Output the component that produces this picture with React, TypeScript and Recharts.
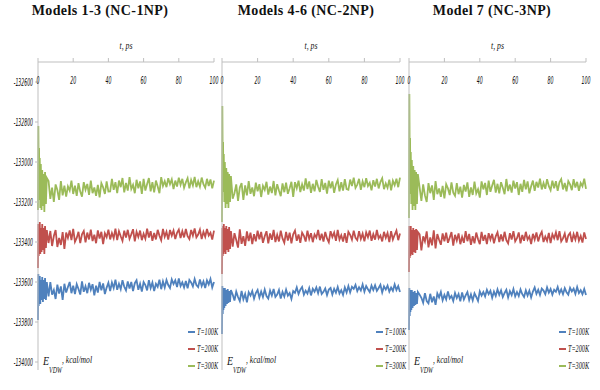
import React from 'react';
import { LineChart, Line, XAxis, YAxis, Legend } from 'recharts';

// time axis (ps), denser at the start where the transient is
const timePs = [
  0, 0.2, 0.4, 0.6, 0.8, 1, 1.3, 1.6, 2, 2.4, 2.8, 3.2, 3.6, 4, 4.5, 5,
  6, 7, 8, 9, 10, 11, 12, 13, 14, 15, 16, 17, 18, 19, 20,
  21, 22, 23, 24, 25, 26, 27, 28, 29, 30, 31, 32, 33, 34, 35,
  36, 37, 38, 39, 40, 41, 42, 43, 44, 45, 46, 47, 48, 49, 50,
  51, 52, 53, 54, 55, 56, 57, 58, 59, 60, 61, 62, 63, 64, 65,
  66, 67, 68, 69, 70, 71, 72, 73, 74, 75, 76, 77, 78, 79, 80,
  81, 82, 83, 84, 85, 86, 87, 88, 89, 90, 91, 92, 93, 94, 95,
  96, 97, 98, 99, 100,
];

const xTicks = [0, 20, 40, 60, 80, 100];
const yTicks = [-132600, -132800, -133000, -133200, -133400, -133600, -133800, -134000];
const seriesNames = ['T=100K', 'T=200K', 'T=300K'];
const colors = ['#4F81BD', '#C0504D', '#9BBB59'];

// Models 1-3 (NC-1NP)
const nc1_100K = [
  -133790, -133560, -133720, -133580, -133700, -133570, -133710, -133590, -133690, -133575, -133700, -133590, -133685, -133580, -133690, -133600,
  -133672, -133600, -133663, -133640, -133685, -133613, -133658, -133622, -133690, -133609,
  -133653, -133625, -133600, -133656, -133618, -133660, -133611, -133635, -133663, -133597,
  -133649, -133621, -133656, -133604, -133639, -133611, -133667, -133618, -133653, -133600,
  -133642, -133607, -133660, -133628, -133604, -133645, -133603, -133630, -133588, -133639,
  -133609, -133636, -133591, -133624, -133642, -133597, -133633, -133600, -133645, -133606,
  -133591, -133639, -133609, -133648, -133600, -133615, -133642, -133591, -133630, -133603,
  -133645, -133609, -133624, -133588, -133636, -133597, -133627, -133590, -133615, -133630,
  -133587, -133610, -133592, -133625, -133582, -133620, -133602, -133627, -133595, -133632,
  -133590, -133602, -133622, -133585, -133615, -133625, -133587, -133620, -133597, -133630,
  -133592, -133612, -133585, -133627, -133600,
];
const nc1_200K = [
  -133530, -133310, -133470, -133320, -133450, -133300, -133460, -133330, -133450, -133310, -133440, -133330, -133460, -133320, -133430, -133340,
  -133405, -133345, -133420, -133370, -133340, -133425, -133380, -133415, -133350, -133435,
  -133353, -133380, -133342, -133391, -133334, -133399, -133380, -133349, -133406, -133361,
  -133345, -133402, -133353, -133387, -133338, -133395, -133364, -133406, -133342, -133383,
  -133349, -133410, -133357, -133376, -133338, -133387, -133355, -133381, -133333, -133391,
  -133346, -133371, -133394, -133343, -133378, -133339, -133384, -133362, -133336, -133397,
  -133349, -133375, -133343, -133391, -133359, -133384, -133333, -133378, -133346, -133394,
  -133355, -133387, -133339, -133368, -133391, -133335, -133374, -133349, -133388, -133340,
  -133368, -133343, -133385, -133354, -133338, -133380, -133346, -133377, -133335, -133371,
  -133385, -133340, -133368, -133332, -133377, -133363, -133338, -133385, -133349, -133374,
  -133335, -133368, -133354, -133388, -133343,
];
const nc1_300K = [
  -133240, -132820, -133060, -132930, -133190, -132980, -133230, -133010, -133240, -133040, -133220, -133060, -133250, -133050, -133210, -133080,
  -133095, -133184, -133128, -133200, -133112, -133140, -133189, -133095, -133167, -133118,
  -133173, -133122, -133143, -133093, -133160, -133118, -133169, -133106, -133148, -133173,
  -133101, -133139, -133110, -133164, -133093, -133156, -133127, -133169, -133114, -133177,
  -133106, -133127, -133160, -133097, -133148, -133147, -133084, -133139, -133101, -133156,
  -133093, -133126, -133080, -133152, -133105, -133143, -133076, -133135, -133114, -133156,
  -133089, -133131, -133097, -133160, -133084, -133143, -133110, -133080, -133147, -133101,
  -133152, -133093, -133122, -133156, -133076, -133120, -133096, -133126, -133081, -133111,
  -133087, -133135, -133093, -133123, -133078, -133114, -133084, -133129, -133102, -133081,
  -133132, -133090, -133117, -133075, -133126, -133096, -133123, -133078, -133111, -133129,
  -133084, -133120, -133087, -133132, -133093,
];

// Models 4-6 (NC-2NP)
const nc2_100K = [
  -133860, -133620, -133760, -133630, -133740, -133640, -133730, -133630, -133720, -133640, -133710, -133635, -133705, -133645, -133700, -133640,
  -133663, -133693, -133648, -133675, -133696, -133645, -133687, -133660, -133702, -133651,
  -133668, -133645, -133683, -133655, -133640, -133678, -133648, -133675, -133638, -133670,
  -133683, -133643, -133668, -133635, -133675, -133663, -133640, -133683, -133650, -133673,
  -133638, -133668, -133655, -133685, -133645, -133654, -133627, -133660, -133638, -133625,
  -133663, -133643, -133658, -133630, -133667, -133634, -133649, -133627, -133656, -133623,
  -133660, -133649, -133632, -133665, -133638, -133630, -133663, -133634, -133654, -133625,
  -133658, -133641, -133665, -133627, -133652, -133620, -133652, -133624, -133634, -133614,
  -133646, -133626, -133642, -133612, -133648, -133620, -133636, -133650, -133618, -133640,
  -133616, -133644, -133630, -133614, -133652, -133622, -133638, -133618, -133648, -133628,
  -133644, -133612, -133640, -133620, -133650,
];
const nc2_200K = [
  -133560, -133330, -133470, -133320, -133460, -133310, -133450, -133330, -133460, -133320, -133440, -133335, -133450, -133325, -133435, -133345,
  -133423, -133356, -133390, -133428, -133337, -133409, -133371, -133419, -133347, -133395,
  -133353, -133411, -133361, -133397, -133343, -133386, -133350, -133404, -133371, -133346,
  -133407, -133357, -133389, -133339, -133400, -133364, -133397, -133343, -133382, -133404,
  -133350, -133393, -133353, -133407, -133361, -133343, -133394, -133362, -133404, -133353,
  -133369, -133398, -133343, -133385, -133356, -133401, -133362, -133378, -133340, -133391,
  -133359, -133398, -133350, -133382, -133401, -133346, -133375, -133353, -133394, -133340,
  -133388, -133366, -133398, -133356, -133404, -133349, -133364, -133388, -133343, -133379,
  -133391, -133346, -133385, -133358, -133397, -133352, -133376, -133343, -133394, -133361,
  -133388, -133340, -133382, -133367, -133397, -133349, -133379, -133355, -133400, -133346,
  -133388, -133364, -133343, -133391, -133358,
];
const nc2_300K = [
  -133300, -132720, -133020, -132900, -133150, -132960, -133200, -133000, -133230, -133030, -133210, -133050, -133230, -133060, -133200, -133070,
  -133183, -133156, -133112, -133194, -133128, -133106, -133189, -133117, -133167, -133095,
  -133159, -133127, -133171, -133103, -133147, -133111, -133175, -133119, -133139, -133099,
  -133163, -133123, -133155, -133095, -133167, -133111, -133143, -133171, -133107, -133151,
  -133103, -133159, -133131, -133099, -133175, -133101, -133131, -133093, -133150, -133112,
  -133143, -133082, -133135, -133097, -133154, -133109, -133147, -133090, -133124, -133150,
  -133086, -133139, -133105, -133158, -133093, -133131, -133097, -133154, -133112, -133090,
  -133147, -133101, -133143, -133086, -133135, -133139, -133088, -133120, -133078, -133129,
  -133113, -133084, -133139, -133097, -133126, -133081, -133120, -133104, -133142, -133091,
  -133123, -133084, -133132, -133100, -133081, -133136, -133107, -133129, -133088, -133142,
  -133094, -133116, -133084, -133126, -133078,
];

// Model 7 (NC-3NP)
const nc3_100K = [
  -133840, -133630, -133770, -133640, -133750, -133645, -133740, -133640, -133730, -133650, -133720, -133645, -133715, -133655, -133710, -133650,
  -133663, -133679, -133704, -133656, -133695, -133707, -133659, -133701, -133672, -133714,
  -133657, -133677, -133650, -133692, -133665, -133687, -133647, -133682, -133670, -133695,
  -133655, -133680, -133660, -133697, -133652, -133687, -133667, -133650, -133690, -133662,
  -133692, -133657, -133675, -133695, -133647, -133668, -133650, -133672, -133639, -133661,
  -133644, -133679, -133648, -133670, -133637, -133664, -133642, -133675, -133655, -133639,
  -133677, -133646, -133666, -133635, -133672, -133650, -133670, -133637, -133661, -133675,
  -133642, -133668, -133644, -133677, -133648, -133627, -133659, -133639, -133665, -133633,
  -133643, -133661, -133627, -133653, -133635, -133663, -133639, -133649, -133625, -133657,
  -133637, -133661, -133631, -133651, -133663, -133629, -133647, -133633, -133659, -133625,
  -133655, -133641, -133661, -133635, -133665,
];
const nc3_200K = [
  -133550, -133320, -133480, -133330, -133470, -133320, -133460, -133340, -133465, -133330, -133450, -133340, -133455, -133335, -133440, -133350,
  -133362, -133442, -133372, -133397, -133347, -133427, -133377, -133417, -133342, -133432,
  -133360, -133389, -133414, -133357, -133396, -133353, -133404, -133378, -133350, -133418,
  -133364, -133393, -133357, -133411, -133375, -133404, -133346, -133396, -133360, -133414,
  -133371, -133407, -133353, -133386, -133411, -133349, -133394, -133365, -133410, -133356,
  -133388, -133359, -133407, -133372, -133352, -133400, -133362, -133397, -133349, -133391,
  -133407, -133356, -133388, -133346, -133397, -133381, -133352, -133407, -133365, -133394,
  -133349, -133388, -133372, -133410, -133359, -133388, -133352, -133397, -133367, -133349,
  -133400, -133373, -133394, -133355, -133406, -133361, -133382, -133352, -133391, -133346,
  -133397, -133382, -133358, -133403, -133367, -133355, -133400, -133361, -133388, -133349,
  -133394, -133370, -133403, -133352, -133385,
];
const nc3_300K = [
  -133280, -132660, -133000, -132880, -133160, -132950, -133210, -132990, -133240, -133020, -133220, -133040, -133240, -133050, -133210, -133060,
  -133128, -133194, -133112, -133167, -133200, -133106, -133156, -133117, -133189, -133095,
  -133161, -133132, -133174, -133119, -133182, -133111, -133132, -133165, -133102, -133153,
  -133169, -133106, -133161, -133123, -133178, -133115, -133148, -133102, -133174, -133127,
  -133165, -133098, -133157, -133136, -133178, -133097, -133137, -133105, -133165, -133093,
  -133149, -133117, -133089, -133153, -133109, -133157, -133101, -133129, -133161, -133085,
  -133145, -133113, -133153, -133093, -133133, -133101, -133165, -133109, -133149, -133089,
  -133137, -133097, -133157, -133121, -133093, -133144, -133099, -133128, -133083, -133137,
  -133105, -133134, -133086, -133121, -133141, -133093, -133131, -133096, -133144, -133102,
  -133086, -133137, -133105, -133147, -133096, -133112, -133141, -133086, -133128, -133099,
  -133144, -133105, -133121, -133083, -133134,
];

const buildRows = (low: number[], mid: number[], high: number[]) =>
  timePs.map((t, i) => ({ t, 'T=100K': low[i], 'T=200K': mid[i], 'T=300K': high[i] }));

const axisGray = '#BFBFBF';
const narrow = "'Liberation Sans Narrow', 'DejaVu Sans Condensed', 'Liberation Sans', sans-serif";
const serif = "'Liberation Serif', 'Times New Roman', serif";

const XTick = (props: any) => {
  const s = String(props.payload.value);
  return (
    <text x={props.x} y={80} dy="0.35em" textAnchor="middle" fontFamily={narrow} fontStyle="italic"
      fontSize={10} fill="#111" textLength={s.length * 3} lengthAdjust="spacingAndGlyphs">{s}</text>
  );
};

const YTick = (props: any) => {
  const s = String(props.payload.value);
  return (
    <text x={props.x} y={props.y} dy="0.35em" textAnchor="end" fontFamily={narrow} fontStyle="italic"
      fontSize={10} fill="#111" textLength={s.length * 2.75} lengthAdjust="spacingAndGlyphs">{s}</text>
  );
};

interface PanelProps {
  title: string;
  rows: any[];
  left: number;
  width: number;
  axisW: number;
  right: number;
  titleX: number;
  legendX: number;
  showY: boolean;
}

const Panel: React.FC<PanelProps> = ({ title, rows, left, width, axisW, right, titleX, legendX, showY }) => {
  const plotMid = axisW + (width - axisW - right) / 2;
  return (
    <>
      <div style={{ position: 'absolute', left: titleX, top: 4, transform: 'translateX(-50%)', whiteSpace: 'nowrap',
        fontFamily: serif, fontWeight: 'bold', fontSize: 14, letterSpacing: 0.4, lineHeight: 1, color: '#111' }}>
        {title}
      </div>
      <div style={{ position: 'absolute', left, top: 0 }}>
        <LineChart width={width} height={390} data={rows} margin={{ top: 0, right, bottom: 20, left: 0 }}>
          <XAxis dataKey="t" type="number" domain={[0, 100]} ticks={xTicks} interval={0} orientation="top" height={62}
            axisLine={{ stroke: axisGray }} tickLine={{ stroke: axisGray }} tickSize={4} tick={XTick}
            label={{ content: () => (
              <text x={plotMid} y={45} dy="0.35em" textAnchor="middle" fontFamily={serif} fontStyle="italic"
                fontSize={11} fill="#111" textLength={13} lengthAdjust="spacingAndGlyphs">t, ps</text>
            ) }} />
          <YAxis type="number" domain={[-134040, -132500]} ticks={yTicks} interval={0} width={axisW}
            axisLine={{ stroke: axisGray }} tickLine={{ stroke: axisGray }} tickSize={3} tickMargin={2}
            tick={showY ? YTick : false}
            label={{ content: () => (
              <g fontFamily={serif} fontStyle="italic" fill="#111">
                <text x={axisW + 5} y={365} fontSize={13} textLength={6} lengthAdjust="spacingAndGlyphs">E</text>
                <text x={axisW + 11} y={373} fontSize={8} textLength={13} lengthAdjust="spacingAndGlyphs">VDW</text>
                <text x={axisW + 24} y={363} fontSize={11} textLength={30} lengthAdjust="spacingAndGlyphs">, kcal/mol</text>
              </g>
            ) }} />
          <Legend layout="horizontal" verticalAlign="middle" align="center"
            wrapperStyle={{ left: legendX, top: 324, width: 42, height: 52 }}
            content={() => (
              <svg width={42} height={52}>
                {seriesNames.map((n, i) => (
                  <g key={n}>
                    <line x1={2} x2={9} y1={8 + i * 17} y2={8 + i * 17} stroke={colors[i]} strokeWidth={2} />
                    <text x={11} y={8 + i * 17} dy="0.35em" fontFamily={serif} fontStyle="italic" fontSize={9.5}
                      fill="#111" textLength={21} lengthAdjust="spacingAndGlyphs">{n}</text>
                  </g>
                ))}
              </svg>
            )} />
          {seriesNames.map((n, i) => (
            <Line key={n} type="linear" dataKey={n} stroke={colors[i]} strokeWidth={1.8} dot={false}
              activeDot={false} isAnimationActive={false} />
          ))}
        </LineChart>
      </div>
    </>
  );
};

export default function App() {
  return (
    <div style={{ position: 'absolute', left: 0, top: 0, width: 600, height: 390, background: '#fff', overflow: 'hidden' }}>
      <Panel title="Models 1-3 (NC-1NP)" rows={buildRows(nc1_100K, nc1_200K, nc1_300K)}
        left={0} width={230} axisW={38} right={16} titleX={100} legendX={186} showY />
      <Panel title="Models 4-6 (NC-2NP)" rows={buildRows(nc2_100K, nc2_200K, nc2_300K)}
        left={212} width={200} axisW={10} right={12} titleX={306} legendX={162} showY={false} />
      <Panel title="Model 7 (NC-3NP)" rows={buildRows(nc3_100K, nc3_200K, nc3_300K)}
        left={398} width={202} axisW={11} right={14} titleX={492} legendX={159} showY={false} />
    </div>
  );
}
